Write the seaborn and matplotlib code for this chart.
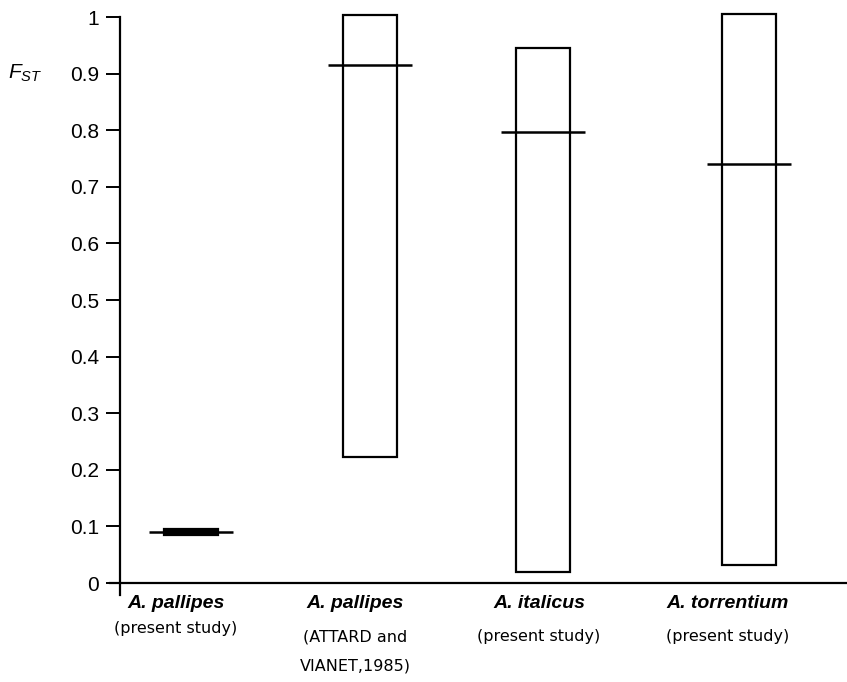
import matplotlib
matplotlib.use("Agg")
import matplotlib.pyplot as plt
import matplotlib.transforms as mtransforms
import numpy as np
import pandas as pd
import seaborn as sns

# ---- data ----
species = ["A. pallipes", "A. pallipes", "A. italicus", "A. torrentium"]
sources = ["(present study)", "(ATTARD and\nVIANET,1985)", "(present study)", "(present study)"]
fst_min = [0.084, 0.222, 0.019, 0.032]
fst_max = [0.095, 1.003, 0.945, 1.006]
fst_mean = [0.090, 0.915, 0.796, 0.740]
yticks = [0, 0.1, 0.2, 0.3, 0.4, 0.5, 0.6, 0.7, 0.8, 0.9, 1]
ytick_labels = ["0", "0.1", "0.2", "0.3", "0.4", "0.5", "0.6", "0.7", "0.8", "0.9", "1"]

# ---- layout (horizontal positions in axis units, vertical in pixels) ----
bar_pos = [191, 370, 542.5, 748.5]
label_pos = [176, 355, 539, 728]
source_y = [629, 637, 637, 636]
bar_width = 54
mean_half = 42

sns.set_theme(style="white")
plt.rcParams["font.family"] = ["Liberation Sans", "DejaVu Sans"]
plt.rcParams["mathtext.fontset"] = "custom"
plt.rcParams["mathtext.it"] = "Liberation Sans:italic"
plt.rcParams["mathtext.rm"] = "Liberation Sans"
plt.rcParams["text.color"] = "black"

W, H = 847, 682
fig = plt.figure(figsize=(W / 100, H / 100), dpi=100)
ax = fig.add_axes([110 / W, 1 - 595 / H, (W - 110) / W, (595 - 17) / H])

df = pd.DataFrame({
    "pos": bar_pos,
    "height": np.array(fst_max) - np.array(fst_min),
})
spacing = min(np.diff(bar_pos))
sns.barplot(data=df, x="pos", y="height", native_scale=True, errorbar=None,
            width=bar_width / spacing, bottom=fst_min, color="white",
            edgecolor="black", linewidth=1.6, ax=ax, clip_on=False, zorder=3)
# first group is a narrow filled box
ax.patches[0].set_facecolor("black")

ax.hlines(fst_mean, np.array(bar_pos) - mean_half, np.array(bar_pos) + mean_half,
          colors="black", linewidth=1.8, zorder=4)

ax.set_xlim(110, W)
ax.set_ylim(-0.0212, 1.0)

for s in ["top", "right"]:
    ax.spines[s].set_visible(False)
ax.spines["left"].set_position(("data", 120))
ax.spines["bottom"].set_position(("data", 0))
ax.spines["left"].set_linewidth(1.6)
ax.spines["bottom"].set_linewidth(1.6)
ax.spines["left"].set_color("black")
ax.spines["bottom"].set_color("black")

ax.set_yticks(yticks)
ax.set_yticklabels(ytick_labels)
ax.tick_params(axis="y", left=True, length=10, width=1.4, pad=5,
               labelsize=15, colors="black")
ax.set_xticks([])
ax.set_xlabel("")
ax.set_ylabel("")
ax.grid(False)

# F_ST label
fig.text(8 / W, 1 - 73 / H, r"$F_{ST}$", fontsize=15, va="center", ha="left",
         color="black")

# category labels
trans = mtransforms.blended_transform_factory(ax.transData, fig.transFigure)
for sp, src, xp, sy in zip(species, sources, label_pos, source_y):
    ax.text(xp, 1 - 604 / H, sp, transform=trans, ha="center", va="center",
            fontsize=14, fontweight="bold", fontstyle="italic", color="black")
    for i, line in enumerate(src.split("\n")):
        ax.text(xp, 1 - (sy + 29 * i) / H, line, transform=trans, ha="center",
                va="center", fontsize=11.5, family=["DejaVu Sans"],
                color="black")

fig.savefig("out.png", dpi=100, facecolor="white")
